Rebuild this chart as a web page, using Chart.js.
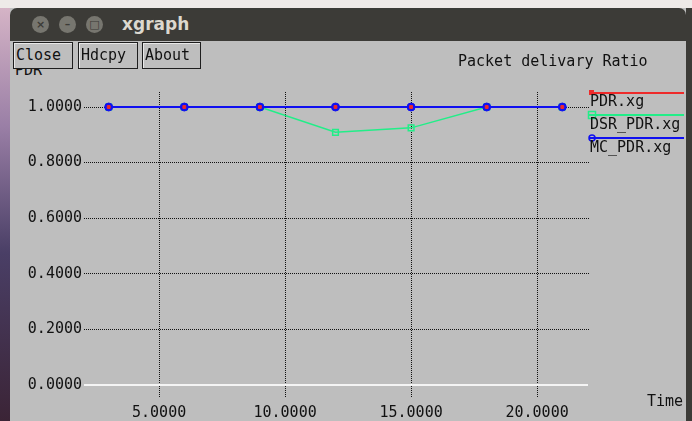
<!DOCTYPE html>
<html>
<head>
<meta charset="utf-8">
<script src="https://cdn.jsdelivr.net/npm/chart.js@4"></script>
<style>
  html, body { margin:0; padding:0; }
  body { width:692px; height:421px; position:relative; overflow:hidden; background:#bebebe; font-family:"DejaVu Sans Mono", monospace; }
  #desk { position:absolute; left:0; top:0; width:10px; height:421px; background:linear-gradient(#d9b7c8, #9a7fa6 30%, #4a3f66 60%, #3b2436); }
  #topstrip { position:absolute; left:0; top:0; width:692px; height:8px; background:#eeeae8; }
  #rightedge { position:absolute; left:686px; top:8px; width:6px; height:413px; background:#3c3b37; }
  #titlebar { position:absolute; left:10px; top:8px; width:676px; height:33px; background:#3c3b37; border-radius:7px 7px 0 0; }
  .wbtn { position:absolute; top:8px; width:17px; height:17px; border-radius:50%; background:#77766f; color:#3c3b37; font:bold 11px "DejaVu Sans"; text-align:center; line-height:17px; }
  #wtitle { position:absolute; left:112px; top:6px; color:#dcd8cf; font:bold 17px "DejaVu Sans"; }
  #plot { position:absolute; left:0; top:0; z-index:1; }
  .btn { position:absolute; top:42px; height:25px; border:1px solid #1e1e1e; box-shadow: inset 1px 1px 0 #e8e8e8; background:#bebebe; z-index:2; font:15px "DejaVu Sans Mono"; color:#111; line-height:25px; padding-left:2px; box-sizing:content-box; }
  #ylabel { position:absolute; left:15px; top:61px; font:15px "DejaVu Sans Mono"; color:#111; z-index:1; }
</style>
</head>
<body>
<div id="desk"></div>
<div id="topstrip"></div>
<div id="titlebar">
  <div class="wbtn" style="left:22px">×</div>
  <div class="wbtn" style="left:49px">–</div>
  <div class="wbtn" style="left:76px">□</div>
  <div id="wtitle">xgraph</div>
</div>
<div id="rightedge"></div>
<div id="ylabel">PDR</div>
<canvas id="plot" width="692" height="421"></canvas>
<div class="btn" style="left:13px;width:56px">Close</div>
<div class="btn" style="left:78px;width:56px">Hdcpy</div>
<div class="btn" style="left:142px;width:55px">About</div>
<script>
// data
const times = [3, 6, 9, 12, 15, 18, 21];
const pdr = [1, 1, 1, 1, 1, 1, 1];
const dsrPdr = [1, 1, 1, 0.909, 0.925, 1, 1];
const mcPdr = [1, 1, 1, 1, 1, 1, 1];
const seriesNames = ['PDR.xg', 'DSR_PDR.xg', 'MC_PDR.xg'];
const chartTitle = 'Packet delivary Ratio';
const xTitle = 'Time';

const RED = '#ee2a2a', GREEN = '#22ee88', BLUE = '#1010f0';
const MONO = '"DejaVu Sans Mono", monospace';
const GRID = '#111';

function pts(ys){ return times.map((t,i)=>({x:t, y:ys[i]})); }

// white zero line, red markers on top, legend and text
const xgraphExtras = {
  id:'xgraphExtras',
  beforeDatasetsDraw(chart){
    const c = chart.ctx, a = chart.chartArea;
    const y0 = chart.scales.y.getPixelForValue(0);
    c.save();
    c.strokeStyle = '#f4f4f4'; c.lineWidth = 2;
    c.beginPath(); c.moveTo(a.left, Math.round(y0)); c.lineTo(a.right-1, Math.round(y0)); c.stroke();
    c.restore();
  },
  afterDatasetsDraw(chart){
    const c = chart.ctx;
    // PDR.xg markers end up on top of the blue circles
    c.save();
    chart.getDatasetMeta(0).data.forEach(p => p.draw(c));
    c.restore();
  },
  afterDraw(chart){
    const c = chart.ctx;
    c.save();
    c.font = '15px ' + MONO; c.fillStyle = '#111'; c.textBaseline = 'alphabetic';
    c.fillText(chartTitle, 458, 66);
    c.fillText(xTitle, 647, 406);
    // legend on the right
    const rows = [{y:93, ty:106, ds:0}, {y:115, ty:129, ds:1}, {y:138, ty:152, ds:2}];
    rows.forEach(r => {
      const d = chart.data.datasets[r.ds];
      c.strokeStyle = d.borderColor; c.lineWidth = 2;
      c.beginPath(); c.moveTo(589, r.y); c.lineTo(684, r.y); c.stroke();
      c.lineWidth = 1.5;
      if (r.ds === 0) { c.fillStyle = d.borderColor; c.fillRect(589, r.y-3, 5, 5); }
      if (r.ds === 1) { c.strokeRect(588.5, r.y-3.5, 7, 7); }
      if (r.ds === 2) { c.beginPath(); c.arc(592, r.y, 3, 0, Math.PI*2); c.stroke(); }
      c.fillStyle = '#111';
      c.fillText(seriesNames[r.ds], 590, r.ty);
    });
    c.restore();
  }
};

new Chart(document.getElementById('plot'), {
  type:'line',
  data:{
    datasets:[
      {label:seriesNames[0], data:pts(pdr), borderColor:RED, backgroundColor:RED, borderWidth:2,
       pointStyle:'rect', pointRadius:2, pointBackgroundColor:RED, pointBorderColor:RED, pointBorderWidth:1, order:3},
      {label:seriesNames[1], data:pts(dsrPdr), borderColor:GREEN, backgroundColor:GREEN, borderWidth:1.5,
       pointStyle:'rect', pointRadius:4, pointBackgroundColor:'rgba(0,0,0,0)', pointBorderColor:GREEN, pointBorderWidth:1.5, order:2},
      {label:seriesNames[2], data:pts(mcPdr), borderColor:BLUE, backgroundColor:BLUE, borderWidth:2,
       pointStyle:'circle', pointRadius:4, pointBackgroundColor:BLUE, pointBorderColor:BLUE, pointBorderWidth:1, order:1}
    ]
  },
  options:{
    responsive:false, animation:false, events:[],
    layout:{padding:{left:0, top:92, right:103, bottom:0}},
    plugins:{legend:{display:false}, tooltip:{enabled:false}},
    scales:{
      x:{type:'linear', min:2.02, max:22.06,
         afterFit(s){ s.height = 23; },
         ticks:{stepSize:5, includeBounds:false, padding:6, color:'#111', font:{family:MONO, size:15},
                callback:v => v.toFixed(4), maxRotation:0},
         grid:{color:GRID, lineWidth:1, drawTicks:false},
         border:{display:false, dash:[1,1]}},
      y:{type:'linear', min:-0.047, max:1.054,
         afterFit(s){ s.width = 84; },
         ticks:{stepSize:0.2, includeBounds:false, padding:2, color:'#111', font:{family:MONO, size:15},
                callback:v => v.toFixed(4)},
         grid:{color:ctx => (ctx.tick && ctx.tick.value === 0) ? 'rgba(0,0,0,0)' : GRID, lineWidth:1, drawTicks:false},
         border:{display:false, dash:[1,1]}}
    }
  },
  plugins:[xgraphExtras]
});
</script>
</body>
</html>
